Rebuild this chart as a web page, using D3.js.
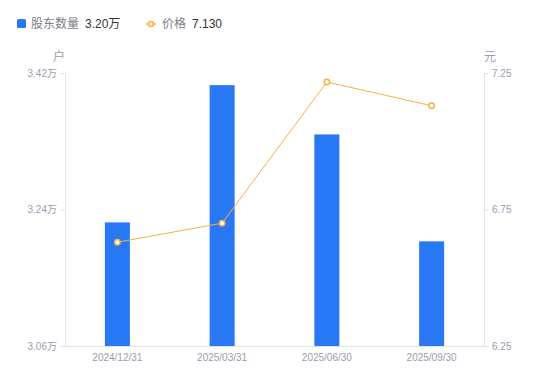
<!DOCTYPE html>
<html><head><meta charset="utf-8">
<script src="https://cdn.jsdelivr.net/npm/d3@7"></script>
<style>body{margin:0;background:#fff;font-family:"Liberation Sans","Noto Sans CJK SC",sans-serif;}
svg text{font-family:"Liberation Sans","Noto Sans CJK SC",sans-serif;}</style>
</head><body>
<svg id="c" width="550" height="381"></svg>
<script>
const categories = ["2024/12/31","2025/03/31","2025/06/30","2025/09/30"];
const holders = [3.223, 3.404, 3.339, 3.198]; // 万户
const prices = [6.63, 6.70, 7.217, 7.13];
const leftTicks = [3.06, 3.24, 3.42];
const rightTicks = [6.25, 6.75, 7.25];

const svg = d3.select("#c");
const L = 65, R = 484, T = 73, B = 346;
const x = d3.scaleBand().domain(categories).range([L, R]);
const yL = d3.scaleLinear().domain([3.06, 3.42]).range([B, T]);
const yR = d3.scaleLinear().domain([6.25, 7.25]).range([B, T]);
const axisColor = "#e3e4e8", labelColor = "#9b9cad";

const gl = svg.append("g").attr("transform", `translate(${L},0)`)
  .call(d3.axisLeft(yL).tickValues(leftTicks).tickSize(5).tickFormat(d => d.toFixed(2) + "万"));
const gr = svg.append("g").attr("transform", `translate(${R},0)`)
  .call(d3.axisRight(yR).tickValues(rightTicks).tickSize(5).tickFormat(d => d.toFixed(2)));
const gx = svg.append("g").attr("transform", `translate(0,${B})`)
  .call(d3.axisBottom(x).tickSize(0).tickPadding(8));
[gl, gr, gx].forEach(g => {
  g.selectAll("path,line").attr("stroke", axisColor);
  g.selectAll("text").attr("fill", labelColor).style("font-size", "10px");
});
gx.select("path").attr("d", `M${L},0.5H${R}`);

svg.append("text").attr("x", 59).attr("y", 61).attr("text-anchor", "middle")
  .attr("fill", labelColor).style("font-size", "12px").text("户");
svg.append("text").attr("x", 490).attr("y", 61).attr("text-anchor", "middle")
  .attr("fill", labelColor).style("font-size", "12px").text("元");

const bw = 25;
svg.append("g").selectAll("rect").data(holders).join("rect")
  .attr("x", (d, i) => x(categories[i]) + x.bandwidth() / 2 - bw / 2)
  .attr("y", d => yL(d))
  .attr("width", bw)
  .attr("height", d => B - yL(d))
  .attr("fill", "#2878f5");

const lineColor = "#f7b13c";
const line = d3.line().x((d, i) => x(categories[i]) + x.bandwidth() / 2).y(d => yR(d));
svg.append("path").datum(prices).attr("d", line).attr("fill", "none")
  .attr("stroke", lineColor).attr("stroke-width", 1);
svg.append("g").selectAll("circle").data(prices).join("circle")
  .attr("cx", (d, i) => x(categories[i]) + x.bandwidth() / 2)
  .attr("cy", d => yR(d)).attr("r", 2.7)
  .attr("fill", "#fff").attr("stroke", lineColor).attr("stroke-width", 1.5);

const lg = svg.append("g").style("font-size", "12px");
lg.append("rect").attr("x", 17).attr("y", 19).attr("width", 9).attr("height", 9).attr("rx", 1.5).attr("fill", "#2878f5");
lg.append("text").attr("x", 31).attr("y", 28).attr("fill", "#7a7b8c").text("股东数量");
lg.append("text").attr("x", 85).attr("y", 28).attr("fill", "#333").text(holders[3].toFixed(2) + "万");
lg.append("line").attr("x1", 146).attr("x2", 156).attr("y1", 24).attr("y2", 24).attr("stroke", lineColor).attr("stroke-width", 1.5);
lg.append("circle").attr("cx", 151).attr("cy", 24).attr("r", 2.5).attr("fill", "#fff").attr("stroke", lineColor).attr("stroke-width", 1.5);
lg.append("text").attr("x", 162).attr("y", 28).attr("fill", "#7a7b8c").text("价格");
lg.append("text").attr("x", 192).attr("y", 28).attr("fill", "#333").text(prices[3].toFixed(3));
</script>
</body></html>
